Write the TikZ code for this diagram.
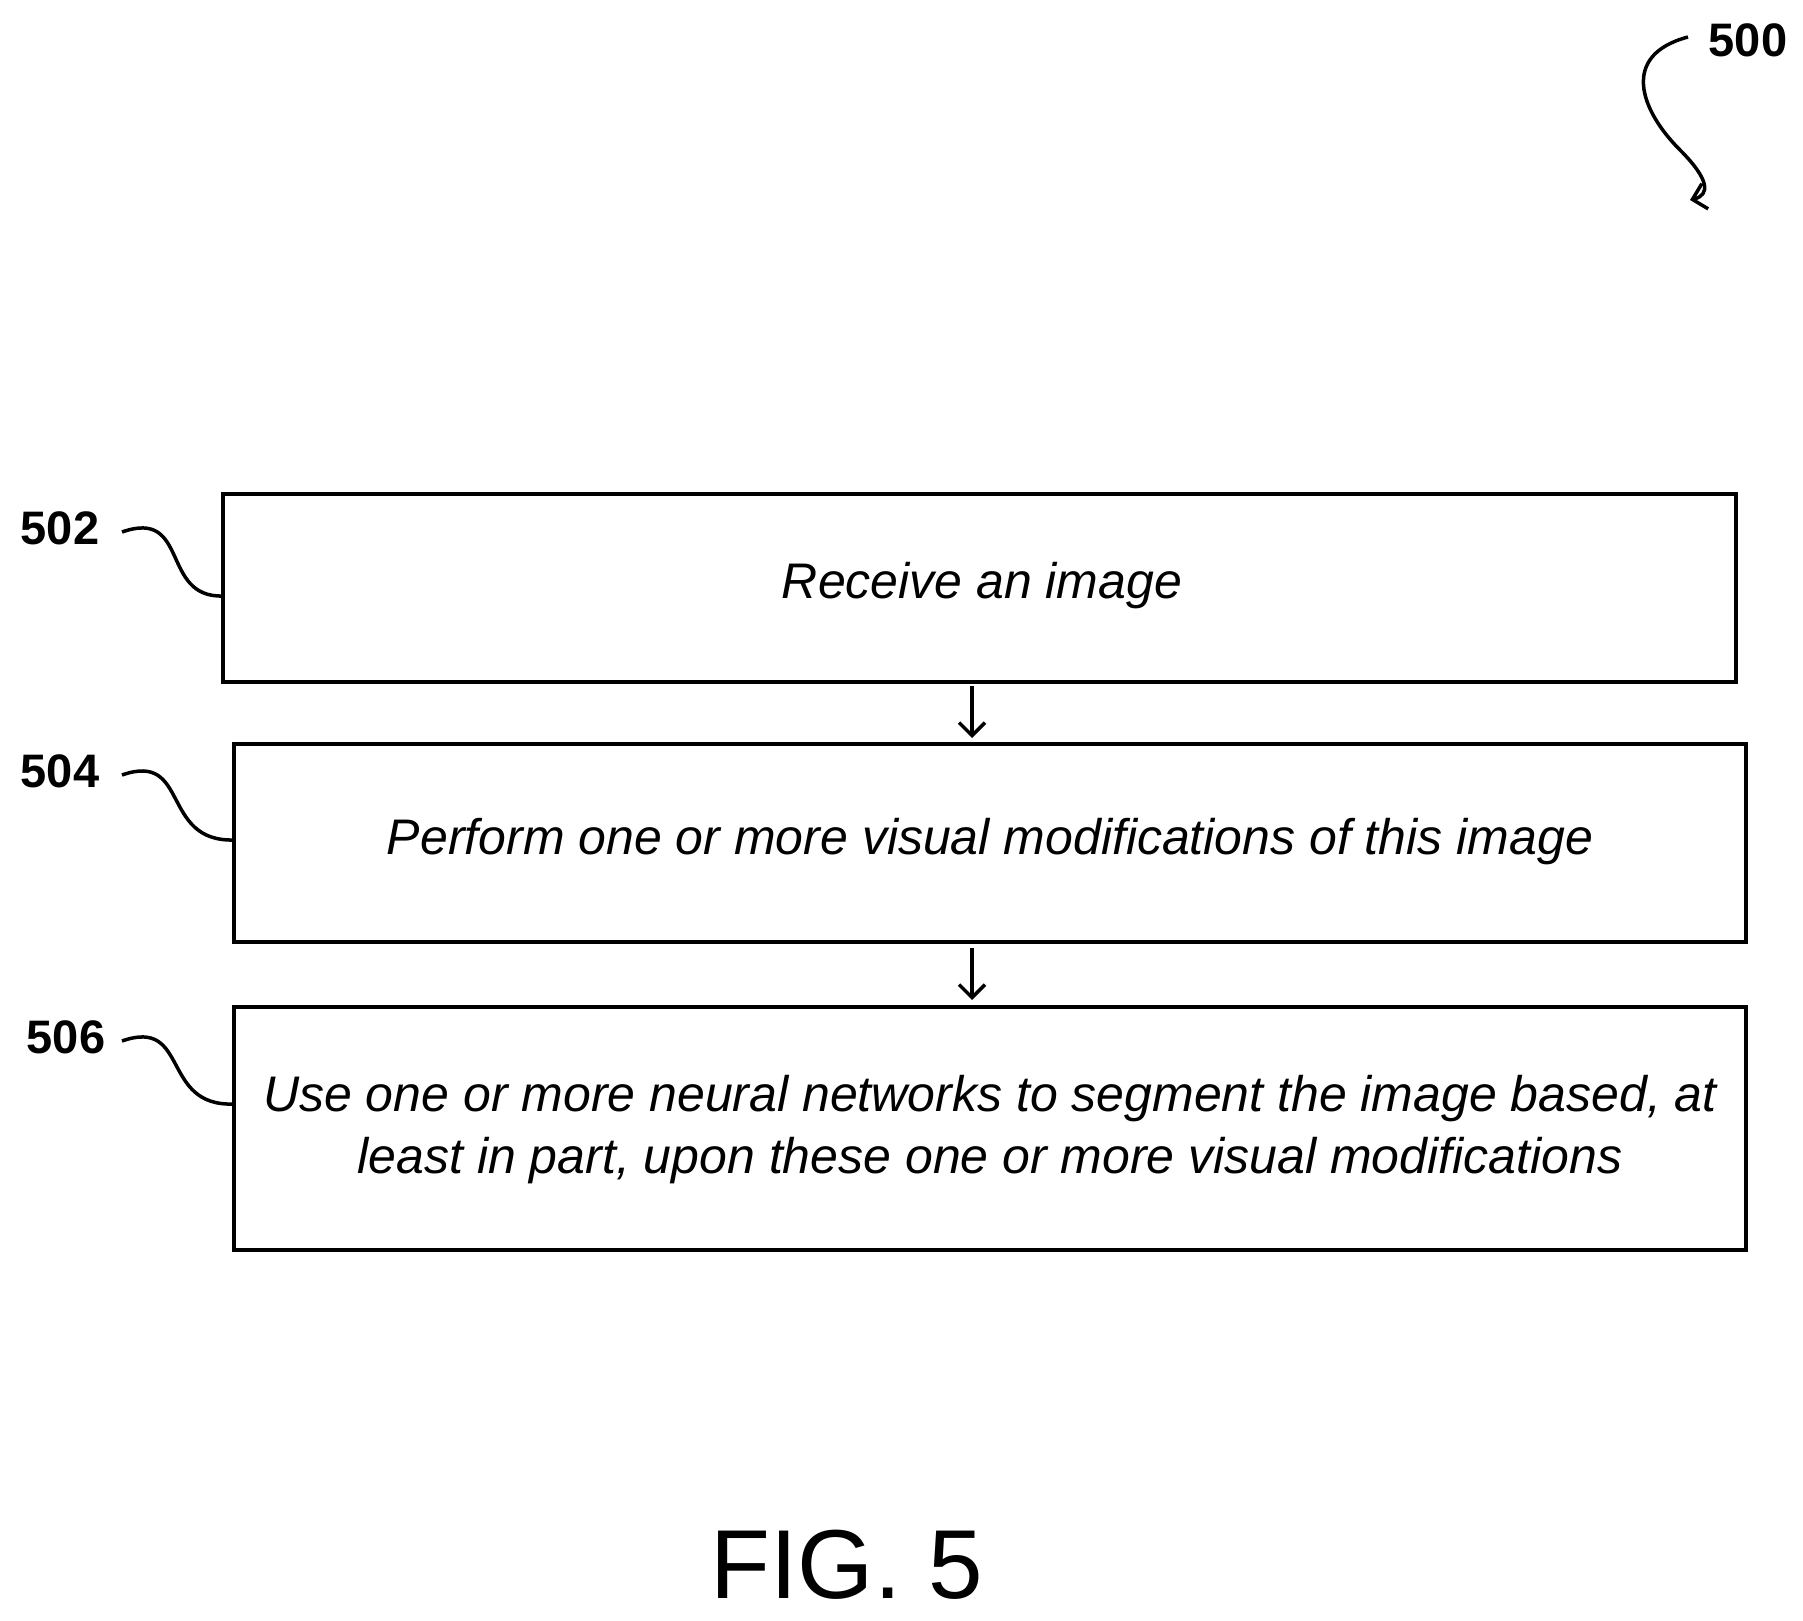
\documentclass[tikz,border=0pt]{standalone}
\usepackage{fontspec}
\setmainfont{Liberation Sans}
\usetikzlibrary{arrows.meta}
\begin{document}
\begin{tikzpicture}[x=1pt,y=-1pt,
  box/.style={draw,line width=3.5pt,inner sep=0pt},
  txt/.style={font=\fontsize{50}{62}\selectfont\itshape,align=center},
  lab/.style={font=\fontsize{47}{50}\selectfont\bfseries},
  con/.style={line width=3.5pt},
  arr/.style={line width=3.5pt,-{Straight Barb[length=13pt,width=26pt]}}]
\useasboundingbox (0,0) rectangle (1803,1621);
\draw[box] (223,494) rectangle (1736,682);
\draw[box] (234,744) rectangle (1746,942);
\draw[box] (234,1007) rectangle (1746,1250);
\node[txt] (t1) at (982,586) {Receive an image};
\node[txt] (t2) at (990,842) {Perform one or more visual modifications of this image};
\node[txt] (t3) at (990,1130) {Use one or more neural networks to segment the image based, at\\least in part, upon these one or more visual modifications};
\coordinate (b1) at (972,686); \coordinate (b2t) at (972,738);
\coordinate (b2) at (972,948); \coordinate (b3t) at (972,1000);
\draw[arr] (b1) -- (b2t);
\draw[arr] (b2) -- (b3t);
\node[lab] (l2) at (60,528) {502};
\node[lab] (l4) at (60,771) {504};
\node[lab] (l6) at (66,1037) {506};
\draw[con] (122,532) .. controls (190,508) and (160,598) .. (223,596);
\draw[con] (122,775) .. controls (190,751) and (160,842) .. (234,840);
\draw[con] (122,1041) .. controls (190,1017) and (160,1107) .. (234,1104);
\node[lab] (l0) at (1748,40) {500};
\coordinate (a0) at (1688,37);
\coordinate (a1) at (1690,200);
\draw[arr] (a0) .. controls (1620,55) and (1640,110) .. (1680,150) .. controls (1710,180) and (1710,195) .. (a1);
\node[font=\fontsize{98}{110}\selectfont] (fig) at (847,1565) {FIG. 5};
\end{tikzpicture}
\end{document}
